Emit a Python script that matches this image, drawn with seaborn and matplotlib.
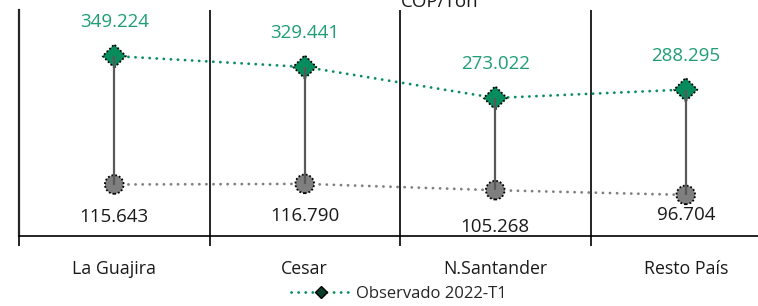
import numpy as np
import pandas as pd
import seaborn as sns
import matplotlib.pyplot as plt
from matplotlib.lines import Line2D

regiones = ["La Guajira", "Cesar", "N.Santander", "Resto País"]
observado = [349.224, 329.441, 273.022, 288.295]
inferior = [115.643, 116.790, 105.268, 96.704]
etiqueta_serie = "Observado 2022-T1"
unidad = "COP/Ton"

verde = "#078C5E"
verde_txt = "#1F9E74"
gris = "#7F7F7F"

sns.set_theme(style="white")
plt.rcParams['font.family'] = ['Open Sans', 'DejaVu Sans']

df = pd.DataFrame({"x": np.arange(len(regiones)), "obs": observado, "inf": inferior})

fig = plt.figure(figsize=(7.58, 3.06), dpi=100)
ax = fig.add_axes([19 / 758, 70 / 306, 762 / 758, 226 / 306])

dots = (0, (0.05, 2.5))
# dotted connecting lines
sns.lineplot(data=df, x="x", y="obs", ax=ax, color=verde, lw=2.0, ls=dots, zorder=2)
sns.lineplot(data=df, x="x", y="inf", ax=ax, color=gris, lw=2.0, ls=dots, zorder=2)
for ln in ax.lines:
    ln.set_dash_capstyle("round")

# vertical range lines
ax.vlines(df["x"], df["inf"], df["obs"], color="#595959", lw=1.6, zorder=4)

# markers with dotted edge
sns.scatterplot(data=df, x="x", y="obs", ax=ax, marker="D", s=140, color=verde,
                edgecolor="black", linewidth=1.3, zorder=3)
sns.scatterplot(data=df, x="x", y="inf", ax=ax, marker="o", s=180, color=gris,
                edgecolor="black", linewidth=1.3, zorder=3)
for coll in ax.collections:
    if coll.get_offsets().shape[0] == len(regiones) and coll.get_sizes().size:
        coll.set_linestyle((0, (1, 1.1)))

# labels
for i, v in enumerate(observado):
    ax.annotate(f"{v:.3f}", (i, v), xytext=(0, 34), textcoords="offset pixels",
                ha="center", va="center", color=verde_txt, fontsize=13.5)
off_inf = [32, 32, 37, 20]
for i, v in enumerate(inferior):
    ax.annotate(f"{v:.3f}", (i, v), xytext=(0, -off_inf[i]), textcoords="offset pixels",
                ha="center", va="center", color="#1a1a1a", fontsize=13.5)

ax.set_xlim(-0.5, 3.5)
ax.set_ylim(22, 433)
ax.set_xticks(range(len(regiones)))
ax.set_xticklabels(regiones, fontsize=12.8, color="#1a1a1a")
ax.set_xticks([-0.5, 0.5, 1.5, 2.5, 3.5], minor=True)
ax.tick_params(axis="x", which="major", length=0, pad=17)
ax.tick_params(axis="x", which="minor", length=7, width=1.2, color="black", direction="out", bottom=True)
ax.set_yticks([])
ax.set_xlabel("")
ax.set_ylabel("")
for sp in ["top", "right"]:
    ax.spines[sp].set_visible(False)
ax.spines["left"].set_color("#262626")
ax.spines["left"].set_linewidth(1.6)
ax.spines["bottom"].set_color("black")
ax.spines["bottom"].set_linewidth(1.2)
for xs in [0.5, 1.5, 2.5]:
    ax.axvline(xs, color="black", lw=1.2, zorder=1)

fig.text(440 / 758, 1 - 7 / 306, unidad, ha="center", va="baseline", fontsize=13.5, color="#1a1a1a")

h = Line2D([], [], color=verde, lw=2.0, ls=dots, dash_capstyle="round", marker="D", markersize=6,
           markerfacecolor="#0b3d2a", markeredgecolor="black")
fig.legend([h], [etiqueta_serie], loc="center", bbox_to_anchor=(399 / 758, 1 - 294 / 306),
           frameon=False, fontsize=12, handlelength=3.6, handletextpad=0.3)

fig.savefig("out.png", dpi=100)
